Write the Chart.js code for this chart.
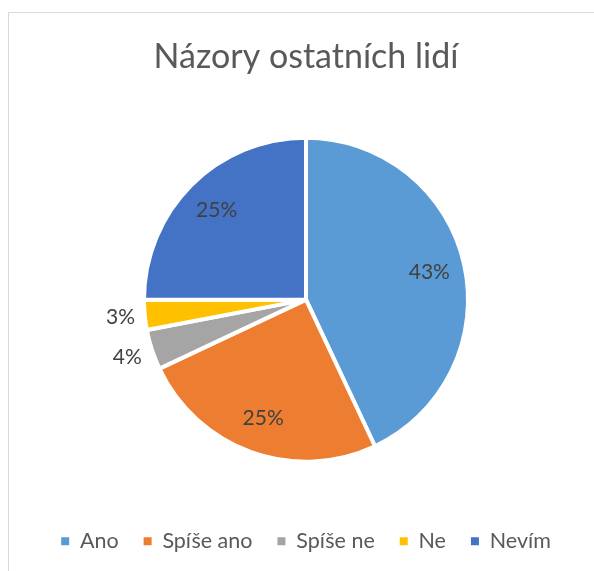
<!DOCTYPE html>
<html>
<head>
<meta charset="utf-8">
<script src="https://cdn.jsdelivr.net/npm/chart.js@4/dist/chart.umd.min.js"></script>
<style>
  html, body { margin: 0; padding: 0; background: #fff; overflow: hidden; }
  #frame { position: absolute; left: 8px; top: 12px; width: 600px; height: 600px; border: 1px solid #d9d9d9; box-sizing: border-box; }
  #c { position: absolute; left: 0; top: 0; }
</style>
</head>
<body>
<div id="frame"></div>
<canvas id="c" width="594" height="571"></canvas>
<script>
const titleText = 'Názory ostatních lidí';
const categories = ['Ano', 'Spíše ano', 'Spíše ne', 'Ne', 'Nevím'];
const percentValues = [43, 25, 4, 3, 25];
const sliceColors = ['#5B9BD5', '#ED7D31', '#A5A5A5', '#FFC000', '#4472C4'];

const labelPlugin = {
  id: 'pctLabels',
  afterDatasetsDraw(chart, args, opts) {
    const ctx = chart.ctx;
    const meta = chart.getDatasetMeta(0);
    const data = chart.data.datasets[0].data;
    ctx.save();
    ctx.font = opts.font;
    ctx.fillStyle = opts.color;
    ctx.textAlign = 'center';
    ctx.textBaseline = 'middle';
    meta.data.forEach((arc, i) => {
      const p = arc.getProps(['x', 'y', 'startAngle', 'endAngle', 'outerRadius'], true);
      const mid = (p.startAngle + p.endAngle) / 2;
      const r = p.outerRadius * opts.radial[i];
      ctx.fillText(data[i] + '%', p.x + Math.cos(mid) * r, p.y + Math.sin(mid) * r);
    });
    ctx.restore();
  }
};

new Chart(document.getElementById('c'), {
  type: 'pie',
  data: {
    labels: categories,
    datasets: [{
      data: percentValues,
      backgroundColor: sliceColors,
      borderColor: '#ffffff',
      borderWidth: 4
    }]
  },
  options: {
    responsive: false,
    animation: false,
    radius: 162,
    layout: { padding: { left: 18, right: 0, top: 0, bottom: 9 } },
    plugins: {
      tooltip: { enabled: false },
      title: {
        display: true,
        text: titleText,
        color: '#595959',
        font: { family: 'Lato', size: 34, weight: 'normal' },
        padding: { top: 37, bottom: 16 }
      },
      legend: {
        position: 'bottom',
        labels: {
          color: '#595959',
          font: { family: 'Lato', size: 21.5 },
          boxWidth: 8,
          boxHeight: 8,
          padding: 25,
          generateLabels(chart) {
            const items = Chart.overrides.pie.plugins.legend.labels.generateLabels(chart);
            items.forEach(it => { it.lineWidth = 0; it.strokeStyle = it.fillStyle; });
            return items;
          }
        }
      },
      pctLabels: {
        font: '21px Lato',
        color: '#404040',
        radial: [0.78, 0.78, 1.16, 1.15, 0.78]
      }
    }
  },
  plugins: [labelPlugin]
});
</script>
</body>
</html>
